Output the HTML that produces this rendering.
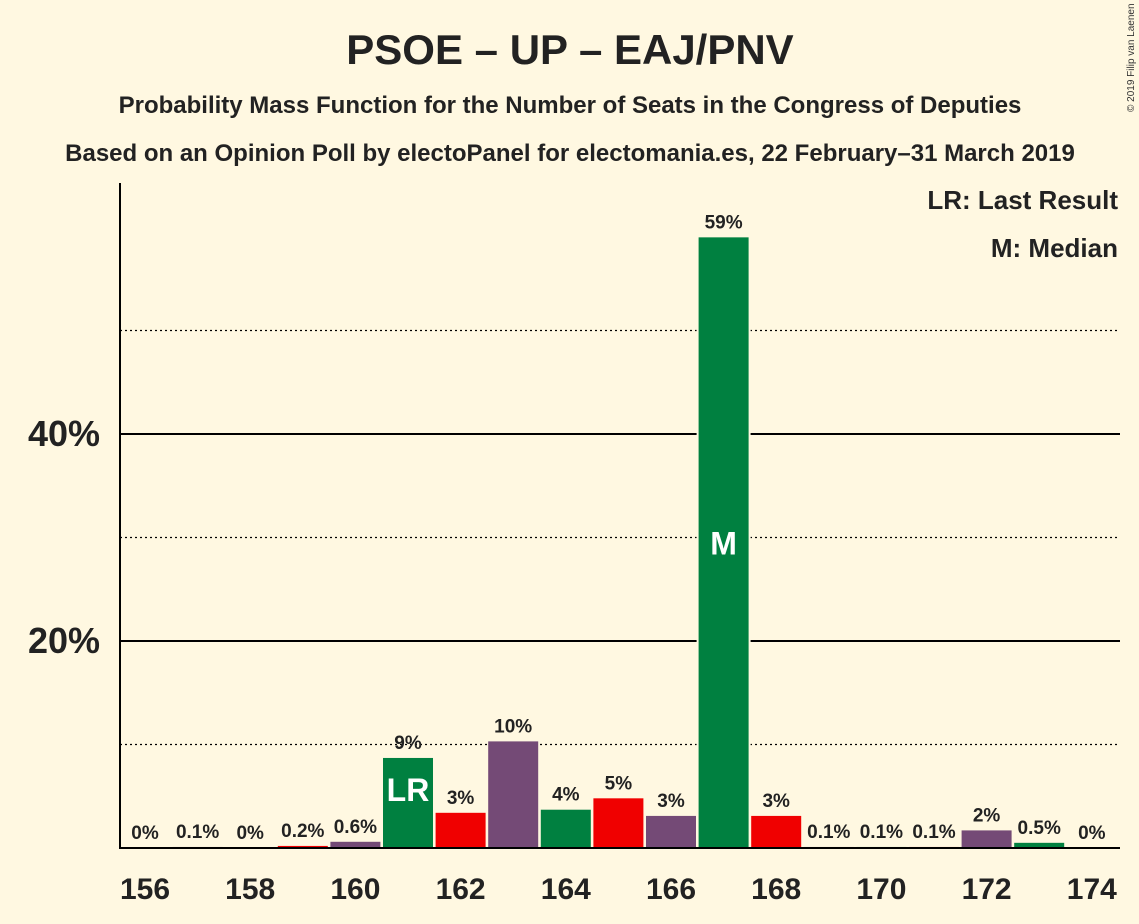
<!DOCTYPE html>
<html><head><meta charset="utf-8"><style>
body{margin:0;background:#fff8e1;}
svg{display:block;font-family:"Liberation Sans",sans-serif;}
</style></head><body>
<svg id="chart" width="1139" height="924" viewBox="0 0 1139 924">
<rect width="1139" height="924" fill="#fff8e1"/>
<text x="570" y="64" text-anchor="middle" font-size="42" font-weight="bold" fill="#222">PSOE – UP – EAJ/PNV</text>
<text x="570" y="113" text-anchor="middle" font-size="24" font-weight="bold" fill="#222">Probability Mass Function for the Number of Seats in the Congress of Deputies</text>
<text x="570" y="161" text-anchor="middle" font-size="24" font-weight="bold" fill="#222">Based on an Opinion Poll by electoPanel for electomania.es, 22 February–31 March 2019</text>
<text x="1134" y="112" font-size="10" fill="#333" transform="rotate(-90 1134 112)">© 2019 Filip van Laenen</text>
<text x="1118" y="209" text-anchor="end" font-size="26" font-weight="bold" fill="#222">LR: Last Result</text>
<text x="1118" y="257" text-anchor="end" font-size="26" font-weight="bold" fill="#222">M: Median</text>
<g id="grid"></g>
<g id="bars"></g>
<line x1="120" y1="183" x2="120" y2="849" stroke="#000" stroke-width="2"/>
<line x1="119" y1="848" x2="1120" y2="848" stroke="#000" stroke-width="2"/>
<g id="labels"></g>
</svg>
<script>
const seats=[156,157,158,159,160,161,162,163,164,165,166,167,168,169,170,171,172,173,174];
const probs=[0,0.1,0,0.2,0.6,8.7,3.4,10.3,3.7,4.8,3.1,59,3.1,0.1,0.1,0.1,1.7,0.5,0];
const valueLabels=["0%","0.1%","0%","0.2%","0.6%","9%","3%","10%","4%","5%","3%","59%","3%","0.1%","0.1%","0.1%","2%","0.5%","0%"];
const yTicks=[20,40];
const yMinor=[10,30,50];
const xTickLabels=[156,158,160,162,164,166,168,170,172,174];
const lastResult=161, median=167;
const NS="http://www.w3.org/2000/svg";
const x=s=>145+(s-156)*52.6;
const y=v=>848-v*10.35;
function mk(t,a,p){const e=document.createElementNS(NS,t);for(const k in a)e.setAttribute(k,a[k]);p.appendChild(e);return e;}
const grid=document.getElementById('grid'),bars=document.getElementById('bars'),labels=document.getElementById('labels');
yMinor.forEach(v=>{const l=mk('line',{x1:120,x2:1120,y1:y(v),y2:y(v),stroke:'#000','stroke-width':1.2,'stroke-dasharray':'2,3'},grid);

});
yTicks.forEach(v=>{const l=mk('line',{x1:120,x2:1120,y1:y(v),y2:y(v),stroke:'#000','stroke-width':2},grid);


const t=mk('text',{x:100,y:y(v)+12,'text-anchor':'end','font-size':36,'font-weight':'bold',fill:'#222'},labels);t.textContent=v+'%';

});
const colors=['#f00000','#744a76','#008040'];
seats.forEach((s,i)=>{const c=colors[(s-159+300)%3];const h=probs[i]*10.35;
if(probs[i]>20){const bg=mk('rect',{x:x(s)-27,y:y(probs[i])-6,width:54,height:h+6,fill:'#fff8e1'},bars);

}
const r=mk('rect',{x:x(s)-25,y:y(probs[i]),width:50,height:h,fill:c},bars);


const t=mk('text',{x:x(s),y:y(probs[i])-9,'text-anchor':'middle','font-size':19,'font-weight':'bold',fill:'#222'},labels);t.textContent=valueLabels[i];


if(s===lastResult||s===median){const m=mk('text',{x:x(s),y:(s===median?y(probs[i]/2)+12:y(probs[i])+43),'text-anchor':'middle','font-size':32,'font-weight':'bold',fill:'#fff'},labels);m.textContent=s===median?'M':'LR';

}});
xTickLabels.forEach(s=>{const t=mk('text',{x:x(s),y:899,'text-anchor':'middle','font-size':30,'font-weight':'bold',fill:'#222'},labels);t.textContent=s;

});
</script>
</body></html>
